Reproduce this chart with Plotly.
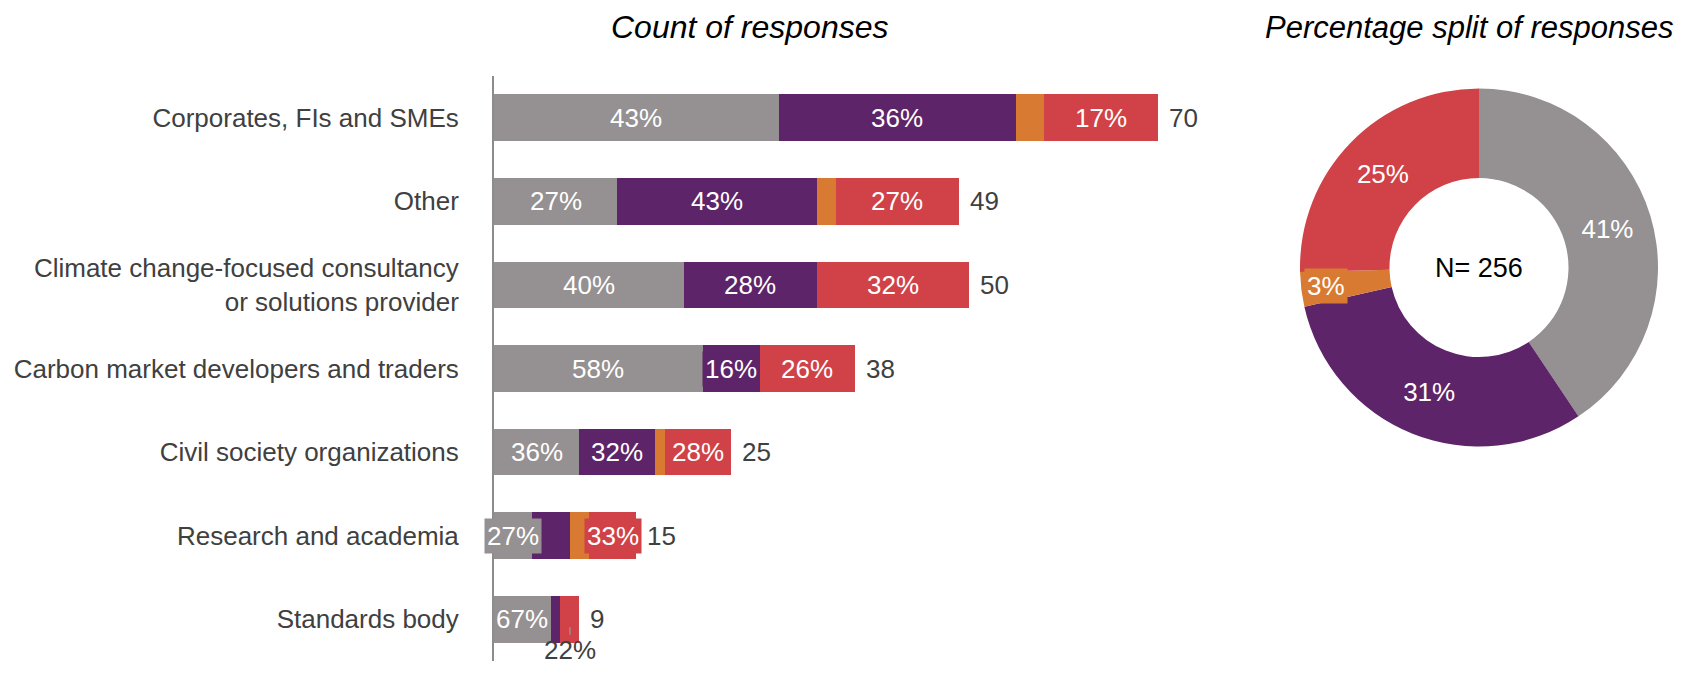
import math
import plotly.graph_objects as go

categories = ["Corporates, FIs and SMEs", "Other",
              "Climate change-focused consultancy<br>or solutions provider",
              "Carbon market developers and traders", "Civil society organizations",
              "Research and academia", "Standards body"]
grey_vals = [30, 13, 20, 22, 9, 4, 6]
purple_vals = [25, 21, 14, 6, 8, 4, 1]
orange_vals = [3, 2, 0, 0, 1, 2, 0]
red_vals = [12, 13, 16, 10, 7, 5, 2]
# segment labels hidden in the reference (category index, series index)
hidden_labels = {(0, 2), (1, 2), (2, 2), (3, 2), (4, 2), (5, 1), (5, 2), (6, 1), (6, 3)}
callout_label = (6, 3)  # label drawn below the bar with a leader line

series_names = ["Grey", "Purple", "Orange", "Red"]
colors = ["#959091", "#5E2469", "#D97A33", "#D04247"]
series = [grey_vals, purple_vals, orange_vals, red_vals]

OFF = 8  # page body margin
W, H = 1685 - 2 * OFF, 676 - 2 * OFF
FONT = "Liberation Sans, Arial, sans-serif"
TXT = "#404040"
FS = 26


def pxx(x):
    return (x - OFF) / W


def pxy(y):
    return 1 - (y - OFF) / H


fig = go.Figure()
for name, vals, col in zip(series_names, series, colors):
    fig.add_trace(go.Bar(y=categories, x=vals, orientation="h", name=name,
                         marker=dict(color=col, line=dict(width=0)),
                         showlegend=False, hoverinfo="x+y"))

totals = [sum(s[i] for s in series) for i in range(len(categories))]
annotations = []
for i, cat in enumerate(categories):
    start = 0
    for j, vals in enumerate(series):
        v = vals[i]
        pct = round(100 * v / totals[i])
        center = start + v / 2
        if (i, j) == callout_label:
            annotations.append(dict(x=center, y=cat, xref="x", yref="y", text=f"{pct}%",
                                    showarrow=True, arrowhead=0, arrowwidth=1.2,
                                    arrowcolor="#9a9a9a", ax=0, ay=31, standoff=8,
                                    borderpad=0,
                                    font=dict(family=FONT, size=FS, color=TXT)))
        elif (i, j) not in hidden_labels and v > 0:
            annotations.append(dict(x=center, y=cat, xref="x", yref="y", text=f"{pct}%",
                                    showarrow=False, bgcolor=colors[j], borderpad=2,
                                    font=dict(family=FONT, size=FS, color="white")))
        start += v
    annotations.append(dict(x=totals[i], y=cat, xref="x", yref="y", text=str(totals[i]),
                            showarrow=False, xanchor="left", xshift=9,
                            font=dict(family=FONT, size=FS, color=TXT)))

# Donut
pie_vals = [sum(s) for s in series]
N = sum(pie_vals)
pie_pcts = [round(100 * v / N) for v in pie_vals]
pie_text = [f"{p}%" if k != 2 else "" for k, p in enumerate(pie_pcts)]
px0, px1, py0, py1 = 1300, 1658, 88, 447
fig.add_trace(go.Pie(values=pie_vals, labels=series_names, sort=False, direction="clockwise",
                     hole=0.5, marker=dict(colors=colors, line=dict(width=0)),
                     text=pie_text, textinfo="text", textposition="inside",
                     insidetextorientation="horizontal",
                     textfont=dict(family=FONT, size=FS, color="white"),
                     domain=dict(x=[pxx(px0), pxx(px1)], y=[pxy(py1), pxy(py0)]),
                     showlegend=False))

# orange slice label with box (computed from slice mid-angle)
cx, cy = (px0 + px1) / 2, (py0 + py1) / 2
R = (px1 - px0) / 2
mid_frac = (pie_vals[0] + pie_vals[1] + pie_vals[2] / 2) / N
theta = 2 * math.pi * mid_frac
rr = R * 0.86
lx = cx + rr * math.sin(theta)
ly = cy - rr * math.cos(theta)
annotations.append(dict(x=pxx(lx), y=pxy(ly), xref="paper", yref="paper",
                        xanchor="center", yanchor="middle",
                        text=f"{pie_pcts[2]}%", showarrow=False, bgcolor=colors[2],
                        borderpad=2, font=dict(family=FONT, size=FS, color="white")))
annotations.append(dict(x=pxx(cx), y=pxy(cy), xref="paper", yref="paper",
                        xanchor="center", yanchor="middle",
                        text=f"N= {N}", showarrow=False,
                        font=dict(family=FONT, size=27, color="black")))
annotations.append(dict(x=pxx(750), y=pxy(27), xref="paper", yref="paper",
                        xanchor="center", yanchor="middle",
                        text="<i>Count of responses</i>", showarrow=False,
                        font=dict(family=FONT, size=32, color="black")))
annotations.append(dict(x=pxx(1469), y=pxy(27), xref="paper", yref="paper",
                        xanchor="center", yanchor="middle",
                        text="<i>Percentage split of responses</i>", showarrow=False,
                        font=dict(family=FONT, size=31, color="black")))

x0_px, unit_px = 494, 9.49
xmax = 80
fig.update_layout(
    width=W, height=H, margin=dict(l=0, r=0, t=0, b=0),
    paper_bgcolor="white", plot_bgcolor="white",
    barmode="stack", bargap=0.44,
    font=dict(family=FONT, size=FS, color=TXT),
    annotations=annotations,
    xaxis=dict(domain=[pxx(x0_px), pxx(x0_px + xmax * unit_px)], range=[0, xmax],
               showgrid=False, zeroline=False, showticklabels=False, showline=False,
               automargin=False),
    yaxis=dict(domain=[pxy(661), pxy(76)], autorange="reversed", automargin=False,
               showgrid=False, zeroline=False, showline=True, linecolor="#8c8c8c",
               linewidth=2, ticks="outside", ticklen=28, tickcolor="rgba(0,0,0,0)",
               tickfont=dict(family=FONT, size=FS, color=TXT)),
)
fig.write_html("out.html")
